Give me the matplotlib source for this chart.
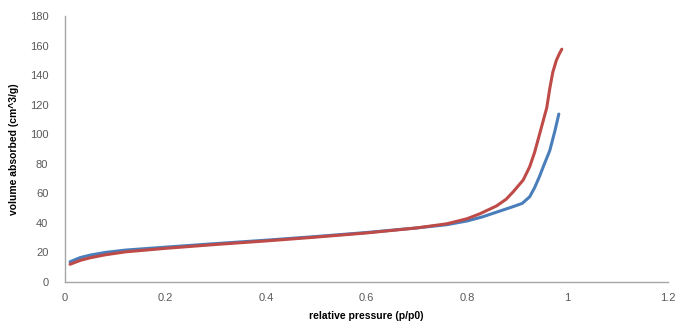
import matplotlib
matplotlib.use("Agg")
import matplotlib.pyplot as plt

# isotherm readings (relative pressure, volume absorbed)
blue_p = [0.01, 0.03, 0.05, 0.08, 0.12, 0.2, 0.3, 0.4, 0.5, 0.6, 0.7, 0.76,
          0.80, 0.83, 0.86, 0.89, 0.91, 0.925, 0.935, 0.944, 0.952, 0.965, 0.975, 0.983]
blue_v = [13.7, 16.5, 18.2, 20.0, 21.6, 23.6, 26.0, 28.3, 30.8, 33.5, 36.6, 38.8,
          41.3, 44.0, 47.4, 50.8, 53.2, 57.7, 64.0, 71.0, 78.0, 89.0, 102.0, 113.7]
red_p = [0.01, 0.03, 0.05, 0.08, 0.12, 0.2, 0.3, 0.4, 0.5, 0.6, 0.7, 0.76,
         0.80, 0.826, 0.859, 0.878, 0.892, 0.912, 0.925, 0.935, 0.947, 0.959,
         0.965, 0.971, 0.978, 0.984, 0.989]
red_v = [12.0, 14.6, 16.4, 18.4, 20.4, 22.8, 25.4, 27.8, 30.4, 33.2, 36.6, 39.4,
         42.8, 46.2, 51.5, 56.0, 61.0, 69.0, 78.0, 88.0, 103.0, 118.0,
         131.0, 142.0, 150.0, 154.5, 157.6]

x_ticks = [0, 0.2, 0.4, 0.6, 0.8, 1, 1.2]
x_tick_labels = ["0", "0.2", "0.4", "0.6", "0.8", "1", "1.2"]
y_ticks = [0, 20, 40, 60, 80, 100, 120, 140, 160, 180]

plt.rcParams["font.family"] = ["Liberation Sans", "DejaVu Sans"]

fig = plt.figure(figsize=(6.78, 3.22), dpi=100)
ax = fig.add_axes([0.0959, 0.1242, 0.8891, 0.8258])

ax.plot(blue_p, blue_v, color="#4a7ebb", linewidth=2.2,
        solid_capstyle="round", solid_joinstyle="round")
ax.plot(red_p, red_v, color="#be4b48", linewidth=2.2,
        solid_capstyle="round", solid_joinstyle="round")

ax.set_xlim(0, 1.2)
ax.set_ylim(0, 180)
ax.set_xticks(x_ticks)
ax.set_xticklabels(x_tick_labels)
ax.set_yticks(y_ticks)
ax.tick_params(length=0, labelsize=8, labelcolor="#595959")
ax.tick_params(axis="x", pad=8)
ax.tick_params(axis="y", pad=12)

for side in ("top", "right"):
    ax.spines[side].set_visible(False)
for side in ("left", "bottom"):
    ax.spines[side].set_color("#a6a6a6")
    ax.spines[side].set_linewidth(1.0)

ax.set_xlabel("relative pressure (p/p0)", fontsize=7.5, fontweight="bold", labelpad=6)
ax.set_ylabel("volume absorbed (cm^3/g)", fontsize=7.5, fontweight="bold", labelpad=8)

fig.savefig("out.png", dpi=100)
